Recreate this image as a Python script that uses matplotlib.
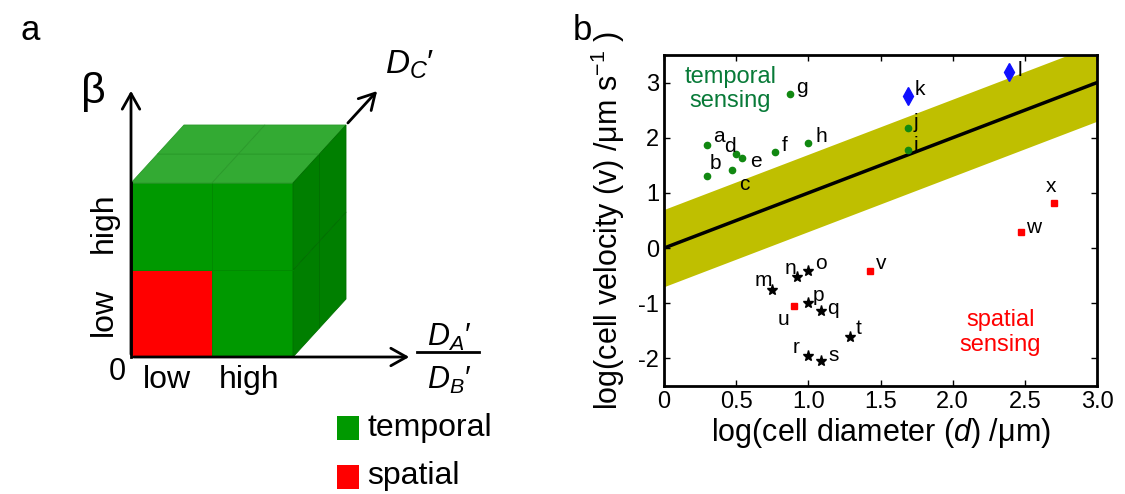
import matplotlib.pyplot as plt
from matplotlib.patches import Polygon, Rectangle, FancyArrowPatch
import numpy as np

plt.rcParams['font.family'] = ['Liberation Sans', 'DejaVu Sans']
plt.rcParams['mathtext.fontset'] = 'custom'
plt.rcParams['mathtext.rm'] = 'Liberation Sans'
plt.rcParams['mathtext.it'] = 'Liberation Sans:italic'

# --- panel a: 2x2x2 cube, cell (i=D_A'/D_B', j=beta, k=D_C') ---
cube_cells = [(i, j, k) for i in range(2) for j in range(2) for k in range(2)]
spatial_cells = [(0, 0, 0)]
face_colors = {
    'temporal': {'front': '#009900', 'top': '#33aa33', 'side': '#007f00'},
    'spatial': {'front': '#ff0000', 'top': '#ff3333', 'side': '#cc0000'},
}

# --- panel b: cell size vs velocity ---
labels = list('abcdefghijklmnopqrstuvwx')
log_d = [0.30, 0.30, 0.47, 0.50, 0.54, 0.77, 0.87, 1.00, 1.69, 1.69, 1.69, 2.39,
         0.75, 0.92, 1.00, 1.00, 1.09, 1.00, 1.09, 1.29, 0.90, 1.43, 2.47, 2.70]
log_v = [1.87, 1.30, 1.41, 1.71, 1.64, 1.74, 2.79, 1.90, 1.78, 2.18, 2.75, 3.19,
         -0.76, -0.52, -0.41, -0.99, -1.14, -1.95, -2.04, -1.61, -1.05, -0.41, 0.30, 0.81]
groups = ['t'] * 10 + ['k'] * 2 + ['s'] * 8 + ['r'] * 4
fit_slope, fit_intercept, band = 1.0, 0.0, 0.7
# label offsets in points (dx, dy)
label_offsets = {
    'a': (4, 6), 'b': (2, 9), 'c': (5, -10), 'd': (-9, 5), 'e': (6, -3),
    'f': (5, 5), 'g': (5, 5), 'h': (5, 5), 'i': (4, 3), 'j': (4, 4),
    'k': (5, 5), 'l': (6, 1), 'm': (-13, 7), 'n': (-9, 6), 'o': (5, 5),
    'p': (3, 5), 'q': (4, 2), 'r': (-11, 6), 's': (5, 4), 't': (4, 6),
    'u': (-12, -10), 'v': (4, 5), 'w': (4, 3), 'x': (-6, 12),
}
marker_styles = {
    't': dict(marker='o', color='#118811', ms=4.5),
    'k': dict(marker='d', color='#1010ff', ms=9),
    's': dict(marker='*', color='black', ms=8),
    'r': dict(marker='s', color='#ff0000', ms=4.5),
}

fig = plt.figure(figsize=(11.25, 4.94), dpi=100)

# ---------- panel a ----------
axa = fig.add_axes([0, 0, 1, 1])
axa.set_xlim(0, 1125)
axa.set_ylim(494, 0)
axa.axis('off')

x0, y0 = 131, 357
cw, ch, dx, dy = 81, 87, 26.5, -29


def proj(i, j, k):
    return (x0 + i * cw + k * dx, y0 - j * ch + k * dy)


for (i, j, k) in cube_cells:
    kind = 'spatial' if (i, j, k) in spatial_cells else 'temporal'
    cols = face_colors[kind]
    if k == 0:
        pts = [proj(i, j, 0), proj(i + 1, j, 0), proj(i + 1, j + 1, 0), proj(i, j + 1, 0)]
        axa.add_patch(Polygon(pts, closed=True, fc=cols['front'], ec='#008800', lw=0.6))
    if j == 1:
        pts = [proj(i, 2, k), proj(i + 1, 2, k), proj(i + 1, 2, k + 1), proj(i, 2, k + 1)]
        axa.add_patch(Polygon(pts, closed=True, fc=cols['top'], ec='#2a9a2a', lw=0.6))
    if i == 1:
        pts = [proj(2, j, k), proj(2, j, k + 1), proj(2, j + 1, k + 1), proj(2, j + 1, k)]
        axa.add_patch(Polygon(pts, closed=True, fc=cols['side'], ec='#006f00', lw=0.6))

# axes arrows
arrow_kw = dict(arrowstyle='->,head_length=0.8,head_width=0.45', color='black', lw=2, mutation_scale=14)
axa.add_patch(FancyArrowPatch(proj(0, 0, 0), (x0, 88), **arrow_kw))
axa.add_patch(FancyArrowPatch(proj(0, 0, 0), (412, y0), **arrow_kw))
axa.add_patch(FancyArrowPatch(proj(2, 2, 2), (379, 89), **arrow_kw))
axa.plot([x0, x0], [y0, y0 - 2 * ch], color='black', lw=2)

axa.text(93, 92, '\u03b2', fontsize=31, ha='center', va='center')
axa.text(410, 65, r"$D_C$" + "\u2032", fontsize=24, ha='center', va='center')
axa.text(449, 337, r"$D_A$" + "\u2032", fontsize=22, ha='center', va='center')
axa.plot([417, 479], [352, 352], color='black', lw=2)
axa.text(449, 380, r"$D_B$" + "\u2032", fontsize=22, ha='center', va='center')
axa.text(117, 372, '0', fontsize=22, ha='center', va='center')
axa.text(167, 380, 'low', fontsize=23, ha='center', va='center')
axa.text(249, 380, 'high', fontsize=23, ha='center', va='center')
axa.text(104, 223, 'high', fontsize=23, ha='center', va='center', rotation=90)
axa.text(104, 312, 'low', fontsize=23, ha='center', va='center', rotation=90)

axa.add_patch(Rectangle((337, 416), 22, 24, fc=face_colors['temporal']['front']))
axa.add_patch(Rectangle((337, 465), 22, 24, fc=face_colors['spatial']['front']))
axa.text(367, 428, 'temporal', fontsize=23, va='center')
axa.text(367, 476, 'spatial', fontsize=23, va='center')

fig.text(30 / 1125, 1 - 30 / 494, 'a', fontsize=25, ha='center', va='center')
fig.text(582 / 1125, 1 - 30 / 494, 'b', fontsize=25, ha='center', va='center')

# ---------- panel b ----------
ax = fig.add_axes([664 / 1125, 1 - 386 / 494, 433 / 1125, 331 / 494])
xs = np.array([0.0, 3.0])
fit = fit_slope * xs + fit_intercept
ax.fill_between(xs, fit - band, fit + band, color='#bfbf00', lw=0)
ax.plot(xs, fit, color='black', lw=2.5)

for g, st in marker_styles.items():
    gx = [x for x, gg in zip(log_d, groups) if gg == g]
    gy = [y for y, gg in zip(log_v, groups) if gg == g]
    ax.plot(gx, gy, ls='none', mec=st['color'], mfc=st['color'], marker=st['marker'],
            ms=st['ms'])

for lab, x, y in zip(labels, log_d, log_v):
    ox, oy = label_offsets[lab]
    ax.annotate(lab, (x, y), xytext=(ox, oy), textcoords='offset points',
                fontsize=15, ha='left', va='center')

ax.text(0.46, 2.88, 'temporal\nsensing', color='#087a38', fontsize=17,
        ha='center', va='center', linespacing=1.15)
ax.text(2.33, -1.53, 'spatial\nsensing', color='#ff0000', fontsize=17,
        ha='center', va='center', linespacing=1.15)

ax.set_xlim(0, 3.0)
ax.set_ylim(-2.5, 3.5)
ax.set_xticks([0, 0.5, 1.0, 1.5, 2.0, 2.5, 3.0])
ax.set_xticklabels(['0', '0.5', '1.0', '1.5', '2.0', '2.5', '3.0'])
ax.set_yticks([-2, -1, 0, 1, 2, 3])
ax.set_yticklabels(['-2', '-1', '0', '1', '2', '3'])
ax.tick_params(direction='in', top=True, right=True, labelsize=17, length=4, width=1)
for s in ax.spines.values():
    s.set_linewidth(2)
ax.set_xlabel(r'log(cell diameter ($\it{d}$) /$\mathrm{\mu}$m)', fontsize=22, labelpad=2)
ax.set_ylabel(r'log(cell velocity (v) /$\mathrm{\mu}$m s$^{-1}$ )', fontsize=22, labelpad=8)

fig.savefig('out.png', dpi=100)
